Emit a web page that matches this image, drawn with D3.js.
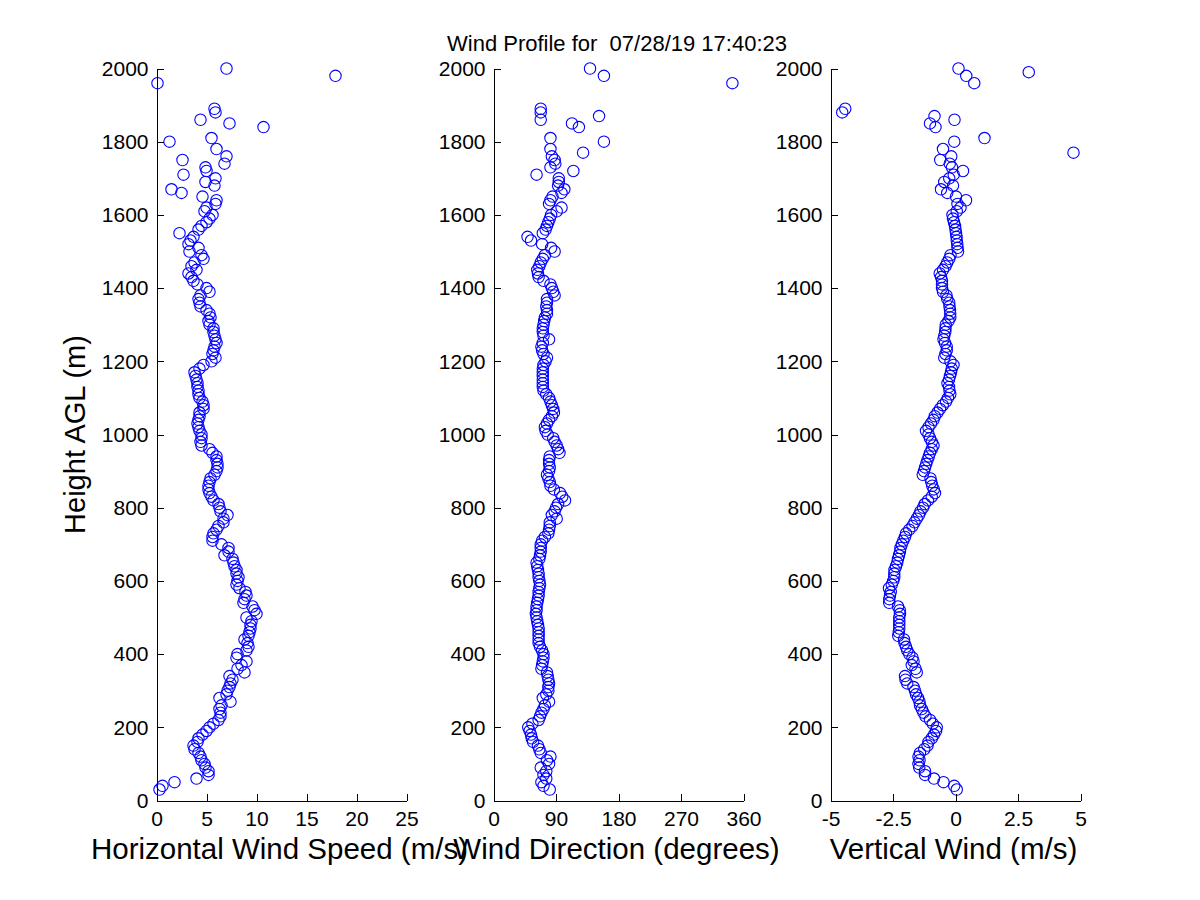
<!DOCTYPE html>
<html>
<head>
    <title>Wind Profile</title>
    <script src="https://d3js.org/d3.v7.min.js"></script>
    <style>
        body { margin: 0; background: #fff; }
        #chart { display: block; }
        text { font-family: "Liberation Sans", Arial, sans-serif; fill: #000; }
    </style>
</head>
<body>
    <svg id="chart"></svg>
    <script>
        // heights (m AGL), one row = 10 range gates
        const heights = [
            30, 40, 50, 60, 70, 80, 90, 100, 110, 120,
            130, 140, 150, 160, 170, 180, 190, 200, 210, 220,
            230, 240, 250, 260, 270, 280, 290, 300, 310, 320,
            330, 340, 350, 360, 370, 380, 390, 400, 410, 420,
            430, 440, 450, 460, 470, 480, 490, 500, 510, 520,
            530, 540, 550, 560, 570, 580, 590, 600, 610, 620,
            630, 640, 650, 660, 670, 680, 690, 700, 710, 720,
            730, 740, 750, 760, 770, 780, 790, 800, 810, 820,
            830, 840, 850, 860, 870, 880, 890, 900, 910, 920,
            930, 940, 950, 960, 970, 980, 990, 1000, 1010, 1020,
            1030, 1040, 1050, 1060, 1070, 1080, 1090, 1100, 1110, 1120,
            1130, 1140, 1150, 1160, 1170, 1180, 1190, 1200, 1210, 1220,
            1230, 1240, 1250, 1260, 1270, 1280, 1290, 1300, 1310, 1320,
            1330, 1340, 1350, 1360, 1370, 1380, 1390, 1400, 1410, 1420,
            1430, 1440, 1450, 1460, 1470, 1480, 1490, 1500, 1510, 1520,
            1530, 1540, 1550, 1560, 1570, 1580, 1590, 1600, 1610, 1620,
            1630, 1640, 1650, 1660, 1670, 1680, 1690, 1700, 1710, 1720,
            1730, 1740, 1750, 1760, 1770, 1780, 1790, 1800, 1810, 1820,
            1830, 1840, 1850, 1860, 1870, 1880, 1890, 1900, 1910, 1920,
            1930, 1940, 1950, 1960, 1970, 1980, 1990, 2000
        ];

        // horizontal wind speed (m/s), null = no retrieval
        const speed = [
            0.3, 0.6, 1.8, 4.0, 5.2, 5.2, 4.9, 4.8, 4.5, 4.4,
            4.2, 3.8, 3.7, 4.1, 4.2, 4.6, 5.0, 5.3, 5.7, 6.2,
            6.4, 6.4, 6.3, 6.5, 7.4, 6.3, 7.0, 7.1, 7.3, 7.4,
            7.6, 7.3, 8.8, 8.1, 8.5, 9.0, 8.0, 8.1, 9.0, 9.2,
            9.1, 8.8, 9.2, 9.3, 9.4, 9.4, 9.5, 9.0, 10.0, 9.8,
            9.6, 8.7, 8.8, 9.0, 8.9, 8.3, 8.0, 8.1, 8.2, 8.0,
            8.0, 7.8, 7.7, 7.6, 6.8, 7.2, 7.2, 6.5, 5.6, 5.6,
            5.7, 6.0, 6.2, 6.7, 6.7, 7.1, 6.4, 6.3, 6.2, 5.7,
            5.5, 5.3, 5.2, 5.2, 5.3, 5.4, 5.8, 6.0, 6.1, 6.1,
            6.0, 6.0, 5.6, 5.3, 4.5, 4.4, 4.5, 4.5, 4.3, 4.2,
            4.1, 4.2, 4.3, 4.3, 4.7, 4.7, 4.6, 4.3, 4.2, 4.2,
            4.1, 4.1, 4.0, 3.9, 3.8, 4.3, 4.7, 5.5, 5.9, 5.6,
            5.7, 5.8, 6.0, 5.9, 5.8, 5.7, 5.7, 5.3, 5.2, 5.4,
            5.3, 5.0, 4.4, 4.3, 4.2, 4.4, 5.3, 5.0, 4.1, 3.7,
            3.5, 3.2, 4.0, 3.5, 3.8, 4.7, 4.5, 3.3, 4.2, 3.2,
            3.4, 3.7, 2.3, 4.2, 4.5, 5.0, 5.3, 5.6, 4.8, 5.0,
            5.9, 6.0, 4.6, 2.5, 1.5, 5.8, 4.9, 5.9, 2.7, 5.0,
            4.9, 6.8, 2.6, 7.0, null, 6.0, null, 1.3, 5.5, null,
            null, 10.7, 7.3, 4.4, null, 5.9, 5.8, null, null, null,
            null, null, null, 0.1, null, 17.9, null, 7.0
        ];

        // wind direction (degrees)
        const direction = [
            81, 72, 69, 76, 72, 76, 68, 80, 77, 82,
            68, 66, 64, 57, 55, 54, 52, 50, 56, 65,
            67, 69, 72, 74, 80, 71, 76, 79, 79, 80,
            79, 78, 77, 69, 70, 71, 72, 72, 70, 67,
            65, 65, 65, 65, 65, 64, 63, 62, 61, 62,
            62, 63, 64, 65, 65, 66, 67, 66, 65, 65,
            64, 63, 62, 66, 67, 68, 68, 68, 70, 74,
            79, 80, 81, 81, 91, 84, 88, 90, 93, 103,
            99, 96, 87, 82, 81, 79, 77, 80, 81, 80,
            80, 81, 95, 93, 91, 88, 86, 78, 75, 74,
            77, 80, 84, 87, 86, 84, 82, 80, 76, 72,
            71, 71, 71, 71, 71, 71, 72, 75, 77, 72,
            70, 69, 71, 80, 72, 71, 71, 72, 73, 74,
            77, 77, 76, 77, 77, 88, 86, 84, 82, 72,
            65, 64, 63, 66, 68, 71, 74, 88, 83, 70,
            54, 49, 71, 75, 77, 79, 81, 83, 91, 98,
            80, 82, 85, 98, 102, 93, 94, 94, 62, 115,
            82, 89, 88, 84, 129, 82, null, 159, 82, null,
            null, 123, 113, 68, 152, 68, 68, null, null, null,
            null, null, null, 344, null, 159, null, 139
        ];

        // vertical wind (m/s)
        const vertical = [
            0.05, -0.05, -0.48, -0.86, -1.22, -1.22, -1.45, -1.48, -1.44, -1.48,
            -1.42, -1.25, -1.12, -1.08, -0.95, -0.86, -0.78, -0.75, -0.91, -1.02,
            -1.2, -1.28, -1.35, -1.42, -1.44, -1.5, -1.58, -1.62, -1.68, -1.93,
            -2.0, -2.02, -1.55, -1.6, -1.75, -1.68, -1.72, -1.85, -1.93, -1.98,
            -2.04, -2.06, -2.29, -2.27, -2.25, -2.25, -2.25, -2.25, -2.22, -2.23,
            -2.3, -2.65, -2.65, -2.62, -2.59, -2.66, -2.55, -2.49, -2.45, -2.45,
            -2.44, -2.38, -2.33, -2.3, -2.26, -2.22, -2.2, -2.15, -2.09, -2.02,
            -1.98, -1.85, -1.72, -1.64, -1.55, -1.46, -1.4, -1.3, -1.23, -1.1,
            -0.95, -0.82, -0.87, -0.93, -0.97, -1.0, -1.31, -1.26, -1.22, -1.17,
            -1.12, -1.07, -1.02, -0.95, -0.88, -0.95, -1.02, -1.08, -1.18, -1.08,
            -0.98, -0.88, -0.83, -0.72, -0.62, -0.51, -0.38, -0.3, -0.21, -0.24,
            -0.26, -0.32, -0.26, -0.22, -0.18, -0.15, -0.08, -0.2, -0.45, -0.4,
            -0.35, -0.35, -0.42, -0.48, -0.45, -0.41, -0.4, -0.39, -0.28, -0.21,
            -0.21, -0.22, -0.24, -0.25, -0.33, -0.36, -0.5, -0.54, -0.54, -0.54,
            -0.58, -0.63, -0.5, -0.4, -0.33, -0.25, -0.2, 0.1, 0.08, 0.07,
            0.05, 0.04, 0.02, 0.0, -0.02, -0.06, -0.1, -0.12, 0.05, 0.2,
            0.08, 0.42, 0.02, -0.33, -0.58, -0.1, -0.45, -0.25, -0.07, 0.3,
            -0.14, -0.23, -0.61, -0.17, 4.72, -0.5, null, -0.05, 1.16, null,
            null, -0.8, -1.02, -0.04, -0.84, -4.53, -4.41, null, null, null,
            null, null, null, 0.75, null, 0.43, 2.93, 0.12
        ];

        const heightTicks = [0, 200, 400, 600, 800, 1000, 1200, 1400, 1600, 1800, 2000];
        const speedTicks = [0, 5, 10, 15, 20, 25];
        const directionTicks = [0, 90, 180, 270, 360];
        const verticalTicks = [-5, -2.5, 0, 2.5, 5];

        const titleText = "Wind Profile for  07/28/19 17:40:23";

        const width = 1200;
        const height = 900;
        const plotTop = 68.5, plotBottom = 800.5;
        const panelWidth = 250;

        const panels = [
            { left: 156.5, domain: [0, 25], ticks: speedTicks, values: speed,
              label: "Horizontal Wind Speed (m/s)" },
            { left: 493.5, domain: [0, 360], ticks: directionTicks, values: direction,
              label: "Wind Direction (degrees)" },
            { left: 830.5, domain: [-5, 5], ticks: verticalTicks, values: vertical,
              label: "Vertical Wind (m/s)" }
        ];

        const svg = d3.select("#chart")
            .attr("width", width)
            .attr("height", height)
            .attr("viewBox", [0, 0, width, height]);

        const y = d3.scaleLinear().domain([0, 2000]).range([plotBottom, plotTop]);

        panels.forEach(p => {
            const x = d3.scaleLinear().domain(p.domain).range([p.left, p.left + panelWidth]);

            // markers first, axes drawn over them like matlab
            const pts = heights.map((h, i) => ({ h: h, v: p.values[i] }))
                .filter(d => d.v !== null);

            svg.append("g")
                .selectAll("circle")
                .data(pts)
                .join("circle")
                .attr("cx", d => x(d.v))
                .attr("cy", d => y(d.h))
                .attr("r", 5.7)
                .attr("fill", "none")
                .attr("stroke", "#0000ff")
                .attr("stroke-width", 1.1);

            const gy = svg.append("g")
                .attr("transform", `translate(${p.left},0)`)
                .call(d3.axisLeft(y).tickValues(heightTicks).tickFormat(d3.format("d"))
                    .tickSize(-7).tickSizeOuter(0).tickPadding(8));

            const gx = svg.append("g")
                .attr("transform", `translate(0,${plotBottom})`)
                .call(d3.axisBottom(x).tickValues(p.ticks).tickFormat(d => String(d))
                    .tickSize(-7).tickSizeOuter(0).tickPadding(11));

            [gx, gy].forEach(g => {
                g.attr("font-family", null).attr("font-size", null);
                g.selectAll("text").style("font-size", "21px");
                g.selectAll("line, path").attr("stroke", "#000").attr("shape-rendering", "crispEdges");
            });

            svg.append("text")
                .attr("x", p.left + panelWidth / 2 - 2)
                .attr("y", 859)
                .attr("text-anchor", "middle")
                .style("font-size", "29.5px")
                .text(p.label);
        });

        svg.append("text")
            .attr("transform", `translate(85,${(plotTop + plotBottom) / 2}) rotate(-90)`)
            .attr("text-anchor", "middle")
            .style("font-size", "29px")
            .text("Height AGL (m)");

        svg.append("text")
            .attr("x", 617)
            .attr("y", 51)
            .attr("text-anchor", "middle")
            .style("font-size", "22px")
            .style("white-space", "pre")
            .attr("xml:space", "preserve")
            .text(titleText);
    </script>
</body>
</html>
